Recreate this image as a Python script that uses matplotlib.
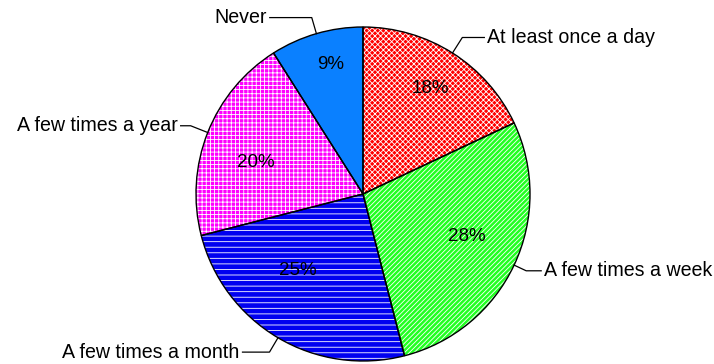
import numpy as np
import matplotlib
matplotlib.use("Agg")
import matplotlib.pyplot as plt
from matplotlib.patches import Wedge

labels = ["At least once a day", "A few times a week", "A few times a month",
          "A few times a year", "Never"]
shares = [18, 28, 25, 20, 9]
colors = ["#ff0000", "#22ff22", "#0000f0", "#ff00ff", "#0a80ff"]
hatches = ["xxxxxx", "///////", "---", "++++", ""]

plt.rcParams["font.family"] = ["Liberation Sans", "DejaVu Sans"]
plt.rcParams["hatch.linewidth"] = 0.6

fig = plt.figure(figsize=(7.14, 3.64), dpi=100)
ax = fig.add_axes([0, 0, 1, 1])

# pie laid out in pixel units: centre and radius
cx, cy, R = 363, 170, 167
wedges, _ = ax.pie(shares, colors=colors, startangle=90, counterclock=False,
                   center=(cx, cy), radius=R,
                   wedgeprops=dict(linewidth=0))
ax.set_xlim(0, 714)
ax.set_ylim(0, 364)
ax.set_aspect("equal")
ax.axis("off")

# white hatching on top of the fills, then black outlines
for w, h in zip(wedges, hatches):
    if h:
        ax.add_patch(Wedge(w.center, w.r, w.theta1, w.theta2, facecolor="none",
                           edgecolor="white", hatch=h, linewidth=0, zorder=2))
    ax.add_patch(Wedge(w.center, w.r, w.theta1, w.theta2, fill=False,
                       edgecolor="black", linewidth=1.0, zorder=3))

# percentage labels inside the slices
pct_radius = [0.75, 0.67, 0.6, 0.67, 0.8]
pct_turn = [0, 3, -10, 5, -2]
# leader lines: elbow radius and horizontal run
elbow = [1.11, 1.08, 1.10, 1.11, 1.10]
run = [22, 15, 27, 10, 42]

for w, lab, s, pr, pt, eb, rn in zip(wedges, labels, shares, pct_radius,
                                     pct_turn, elbow, run):
    mid = np.deg2rad((w.theta1 + w.theta2) / 2)
    a = mid + np.deg2rad(pt)
    ax.text(cx + pr * R * np.cos(a), cy + pr * R * np.sin(a), f"{s}%",
            ha="center", va="center", fontsize=13.5, zorder=4)

    ex, ey = cx + R * np.cos(mid), cy + R * np.sin(mid)
    kx, ky = cx + eb * R * np.cos(mid), cy + eb * R * np.sin(mid)
    side = 1 if np.cos(mid) > 0 else -1
    tx = kx + side * rn
    ax.plot([ex, kx, tx], [ey, ky, ky], color="black", linewidth=0.9, zorder=4)
    ax.text(tx + side * 3, ky, lab, ha="left" if side > 0 else "right",
            va="center", fontsize=14.1, zorder=4)

fig.savefig("out.png", dpi=100)
